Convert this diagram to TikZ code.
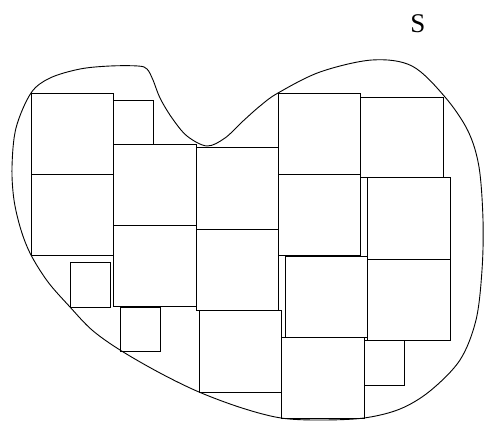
\documentclass[tikz,border=0pt]{standalone}
\usepackage{fontspec}
\setmainfont{Liberation Serif}
\begin{document}
\begin{tikzpicture}[x=1pt,y=-1pt,
  sq/.style={draw=black,line width=0.8pt},
  blob/.style={draw=black,line width=0.9pt}]
\useasboundingbox (0,0) rectangle (484,421);
% outline of the set S
\draw[blob] plot[smooth cycle,tension=0.55] coordinates{
 (31,93) (50,78) (80,69) (110,66) (138,66) (147,69) (153,80) (160,98)
 (172,118) (187,136) (207,146) (225,138) (242,122) (260,106) (278,93)
 (320,72) (372,60) (412,66) (445,97) (468,131) (479,167) (483,220)
 (482,270) (476,320) (460,360) (430,391) (400,409) (364,418) (320,420)
 (281,418) (242,408) (199,392) (160,373) (120,350) (92,330) (70,307)
 (48,282) (31,255) (21,230) (14,200) (12,167) (16,128)};
% squares
\draw[sq] (31,93) rectangle (113,174);
\draw[sq] (31,174) rectangle (113,255);
\draw[sq] (113,100) rectangle (153,144);
\draw[sq] (113,144) rectangle (196,225);
\draw[sq] (113,225) rectangle (196,306);
\draw[sq] (196,147) rectangle (278,229);
\draw[sq] (196,229) rectangle (278,310);
\draw[sq] (199,310) rectangle (281,392);
\draw[sq] (281,337) rectangle (364,418);
\draw[sq] (278,93) rectangle (360,174);
\draw[sq] (278,174) rectangle (360,255);
\draw[sq] (360,97) rectangle (443,177);
\draw[sq] (367,177) rectangle (450,259);
\draw[sq] (367,259) rectangle (450,340);
\draw[sq] (285,256) rectangle (367,337);
\draw[sq] (364,340) rectangle (404,385);
\draw[sq] (70,262) rectangle (110,307);
\draw[sq] (120,307) rectangle (160,351);
% label
\node (S) at (418,24) {\fontsize{27}{32}\selectfont S};
\end{tikzpicture}
\end{document}
